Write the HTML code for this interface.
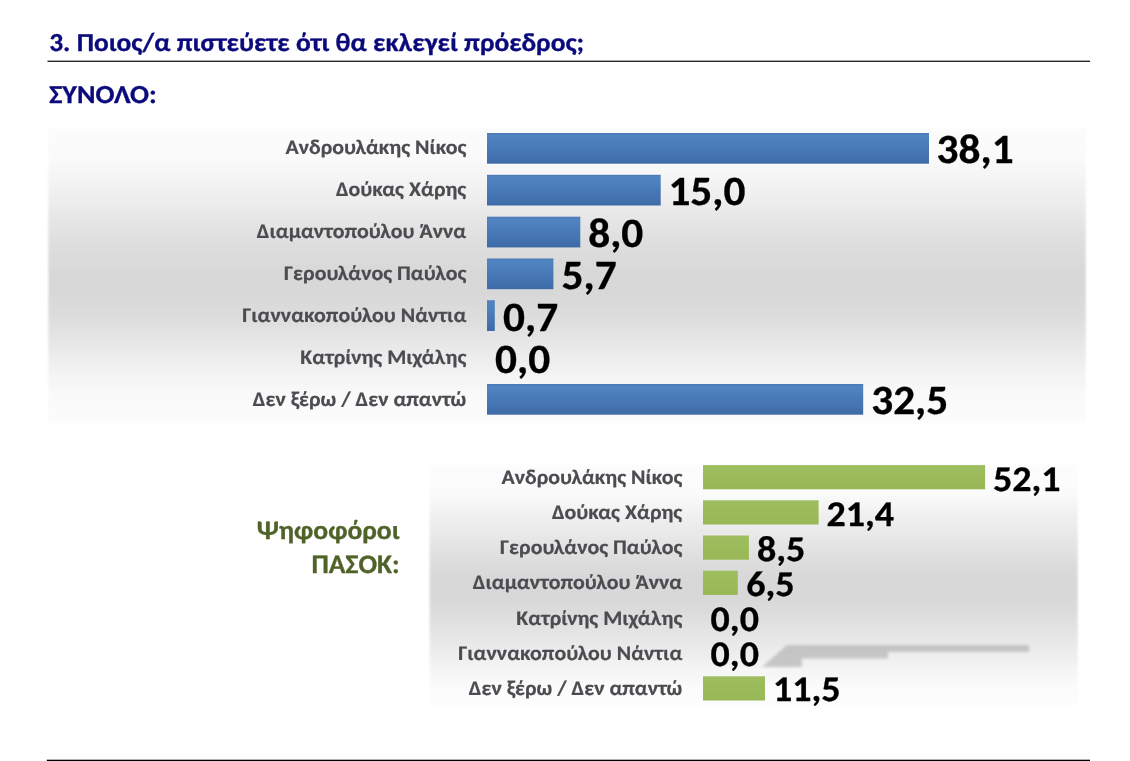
<!DOCTYPE html>
<html lang="el"><head><meta charset="utf-8"><title>3. Ποιος/α πιστεύετε ότι θα εκλεγεί πρόεδρος;</title>
<style>
html,body{margin:0;padding:0;background:#fff;}
body{width:1130px;height:761px;overflow:hidden;position:relative;}
svg{position:absolute;left:0;top:0;display:block;}
text{font-family:Carlito, 'Liberation Sans', sans-serif;font-weight:bold;paint-order:stroke;stroke-linejoin:round;text-rendering:geometricPrecision;}
.t{fill:#0a0a7c;stroke:#0a0a7c;stroke-width:.3px;}
.l{fill:#4b4b50;stroke:#4b4b50;stroke-width:.2px;}
.v1{fill:#000;stroke:#000;stroke-width:.3px;}
.v2{fill:#000;stroke:#000;stroke-width:.3px;}
.g{fill:#4f6228;stroke:#4f6228;stroke-width:.3px;}
</style></head><body>
<svg xmlns="http://www.w3.org/2000/svg" width="1130" height="761" viewBox="0 0 1130 761">
<defs>
<linearGradient id="bg1" x1="0" y1="0" x2="0" y2="1"><stop offset="0.0000" stop-color="#fcfcfc"/><stop offset="0.0500" stop-color="#fbfbfb"/><stop offset="0.1000" stop-color="#fafafa"/><stop offset="0.1500" stop-color="#f6f6f6"/><stop offset="0.2000" stop-color="#f2f2f2"/><stop offset="0.2500" stop-color="#ededed"/><stop offset="0.3000" stop-color="#e7e7e7"/><stop offset="0.3500" stop-color="#e2e2e2"/><stop offset="0.4000" stop-color="#dedede"/><stop offset="0.4500" stop-color="#dadada"/><stop offset="0.5000" stop-color="#d8d8d8"/><stop offset="0.5500" stop-color="#d8d8d8"/><stop offset="0.6000" stop-color="#dadada"/><stop offset="0.6500" stop-color="#dedede"/><stop offset="0.7000" stop-color="#e3e3e3"/><stop offset="0.7500" stop-color="#e9e9e9"/><stop offset="0.8000" stop-color="#efefef"/><stop offset="0.8500" stop-color="#f5f5f5"/><stop offset="0.9000" stop-color="#f9f9f9"/><stop offset="0.9500" stop-color="#fbfbfb"/><stop offset="1.0000" stop-color="#fcfcfc"/></linearGradient>
<linearGradient id="bg2" x1="0" y1="0" x2="0" y2="1"><stop offset="0.0000" stop-color="#fdfdfd"/><stop offset="0.0826" stop-color="#fcfcfc"/><stop offset="0.1240" stop-color="#fafafa"/><stop offset="0.1653" stop-color="#f6f6f6"/><stop offset="0.2314" stop-color="#eeeeee"/><stop offset="0.4380" stop-color="#dadada"/><stop offset="0.4793" stop-color="#d8d8d8"/><stop offset="0.5455" stop-color="#d8d8d8"/><stop offset="0.5868" stop-color="#dadada"/><stop offset="0.7273" stop-color="#e7e7e7"/><stop offset="0.8099" stop-color="#f0f0f0"/><stop offset="0.8595" stop-color="#f6f6f6"/><stop offset="0.9008" stop-color="#f9f9f9"/><stop offset="0.9421" stop-color="#fcfcfc"/><stop offset="1.0000" stop-color="#fdfdfd"/></linearGradient>
<linearGradient id="bar1" x1="0" y1="0" x2="0" y2="1"><stop offset="0" stop-color="#4a78b4"/><stop offset="0.08" stop-color="#5085c2"/><stop offset="1" stop-color="#3e6ba8"/></linearGradient>
<linearGradient id="bar2" x1="0" y1="0" x2="0" y2="1"><stop offset="0" stop-color="#9ebd5e"/><stop offset="1" stop-color="#98b856"/></linearGradient>
<filter id="e1" x="-2%" y="-5%" width="104%" height="110%"><feGaussianBlur stdDeviation="0.8"/></filter>
<filter id="blur3" x="-10%" y="-50%" width="120%" height="200%"><feGaussianBlur stdDeviation="1.6"/></filter>
</defs>
<rect x="0" y="0" width="1130" height="761" fill="#fff"/>
<text class="t" font-size="25.95" x="49.20" y="51.30" textLength="535.0" lengthAdjust="spacingAndGlyphs">3. Ποιος/α πιστεύετε ότι θα εκλεγεί πρόεδρος;</text>
<rect x="47.5" y="60.6" width="1042.5" height="1.4" fill="#2a2a2a"/>
<text class="t" font-size="25.95" x="49.20" y="103.40" textLength="107.5" lengthAdjust="spacingAndGlyphs">ΣΥΝΟΛΟ:</text>
<rect x="48.3" y="128" width="1037.5" height="294.5" fill="url(#bg1)" filter="url(#e1)"/>
<g>
<rect x="487" y="133.0" width="442.0" height="30.7" fill="url(#bar1)"/>
<rect x="487" y="174.8" width="173.7" height="30.7" fill="url(#bar1)"/>
<rect x="487" y="216.7" width="93.3" height="30.7" fill="url(#bar1)"/>
<rect x="487" y="258.5" width="66.4" height="30.7" fill="url(#bar1)"/>
<rect x="487" y="300.3" width="7.8" height="30.7" fill="url(#bar1)"/>
<rect x="487" y="384.0" width="376.2" height="30.7" fill="url(#bar1)"/>
</g>
<text class="l" font-size="20.83" x="285.50" y="154.10" textLength="180.8" lengthAdjust="spacingAndGlyphs">Ανδρουλάκης Νίκος</text>
<text class="l" font-size="20.83" x="335.98" y="196.05" textLength="130.3" lengthAdjust="spacingAndGlyphs">Δούκας Χάρης</text>
<text class="l" font-size="20.83" x="256.88" y="238.00" textLength="209.4" lengthAdjust="spacingAndGlyphs">Διαμαντοπούλου Άννα</text>
<text class="l" font-size="20.83" x="284.10" y="279.95" textLength="182.2" lengthAdjust="spacingAndGlyphs">Γερουλάνος Παύλος</text>
<text class="l" font-size="20.83" x="242.32" y="321.90" textLength="224.0" lengthAdjust="spacingAndGlyphs">Γιαννακοπούλου Νάντια</text>
<text class="l" font-size="20.83" x="300.30" y="363.85" textLength="166.0" lengthAdjust="spacingAndGlyphs">Κατρίνης Μιχάλης</text>
<text class="l" font-size="20.83" x="252.84" y="405.80" textLength="213.5" lengthAdjust="spacingAndGlyphs">Δεν ξέρω / Δεν απαντώ</text>
<g>
<text class="v1" font-size="41.70" x="936.60" y="163.40" textLength="77.0" lengthAdjust="spacingAndGlyphs">38,1</text>
<text class="v1" font-size="41.70" x="668.40" y="205.23" textLength="77.0" lengthAdjust="spacingAndGlyphs">15,0</text>
<text class="v1" font-size="41.70" x="588.20" y="247.06" textLength="55.1" lengthAdjust="spacingAndGlyphs">8,0</text>
<text class="v1" font-size="41.70" x="561.60" y="288.89" textLength="55.1" lengthAdjust="spacingAndGlyphs">5,7</text>
<text class="v1" font-size="41.70" x="503.00" y="330.72" textLength="55.1" lengthAdjust="spacingAndGlyphs">0,7</text>
<text class="v1" font-size="41.70" x="495.00" y="372.55" textLength="55.1" lengthAdjust="spacingAndGlyphs">0,0</text>
<text class="v1" font-size="41.70" x="871.20" y="414.38" textLength="77.0" lengthAdjust="spacingAndGlyphs">32,5</text>
</g>
<rect x="429.6" y="464" width="648.1" height="242" fill="url(#bg2)" filter="url(#e1)"/>
<path d="M787 645 H1029 V652 H888 V658.5 H802 V667 H762 Z" fill="#b0b0b0" opacity=".66" filter="url(#blur3)"/>
<g>
<rect x="703" y="465.1" width="282.1" height="24.2" fill="url(#bar2)"/>
<rect x="703" y="500.3" width="115.6" height="24.2" fill="url(#bar2)"/>
<rect x="703" y="535.5" width="45.9" height="24.2" fill="url(#bar2)"/>
<rect x="703" y="570.7" width="34.8" height="24.2" fill="url(#bar2)"/>
<rect x="703" y="676.3" width="62.0" height="24.2" fill="url(#bar2)"/>
</g>
<text class="l" font-size="20.83" x="501.50" y="483.70" textLength="180.8" lengthAdjust="spacingAndGlyphs">Ανδρουλάκης Νίκος</text>
<text class="l" font-size="20.83" x="551.98" y="518.90" textLength="130.3" lengthAdjust="spacingAndGlyphs">Δούκας Χάρης</text>
<text class="l" font-size="20.83" x="500.10" y="554.10" textLength="182.2" lengthAdjust="spacingAndGlyphs">Γερουλάνος Παύλος</text>
<text class="l" font-size="20.83" x="472.88" y="589.30" textLength="209.4" lengthAdjust="spacingAndGlyphs">Διαμαντοπούλου Άννα</text>
<text class="l" font-size="20.83" x="516.30" y="624.50" textLength="166.0" lengthAdjust="spacingAndGlyphs">Κατρίνης Μιχάλης</text>
<text class="l" font-size="20.83" x="458.32" y="659.70" textLength="224.0" lengthAdjust="spacingAndGlyphs">Γιαννακοπούλου Νάντια</text>
<text class="l" font-size="20.83" x="468.84" y="694.90" textLength="213.5" lengthAdjust="spacingAndGlyphs">Δεν ξέρω / Δεν απαντώ</text>
<g>
<text class="v2" font-size="36.10" x="993.00" y="490.65" textLength="67.6" lengthAdjust="spacingAndGlyphs">52,1</text>
<text class="v2" font-size="36.10" x="826.50" y="525.65" textLength="67.6" lengthAdjust="spacingAndGlyphs">21,4</text>
<text class="v2" font-size="36.10" x="757.00" y="560.65" textLength="48.3" lengthAdjust="spacingAndGlyphs">8,5</text>
<text class="v2" font-size="36.10" x="746.20" y="595.65" textLength="48.3" lengthAdjust="spacingAndGlyphs">6,5</text>
<text class="v2" font-size="36.10" x="710.60" y="630.65" textLength="48.3" lengthAdjust="spacingAndGlyphs">0,0</text>
<text class="v2" font-size="36.10" x="710.60" y="665.65" textLength="48.3" lengthAdjust="spacingAndGlyphs">0,0</text>
<text class="v2" font-size="36.10" x="773.00" y="700.65" textLength="67.6" lengthAdjust="spacingAndGlyphs">11,5</text>
</g>
<text class="g" font-size="26.60" x="256.77" y="539.20" textLength="142.8" lengthAdjust="spacingAndGlyphs">Ψηφοφόροι</text>
<text class="g" font-size="26.60" x="311.43" y="573.00" textLength="88.2" lengthAdjust="spacingAndGlyphs">ΠΑΣΟΚ:</text>
<rect x="46.8" y="759.7" width="1043.2" height="1.4" fill="#000"/>
</svg>
</body></html>
